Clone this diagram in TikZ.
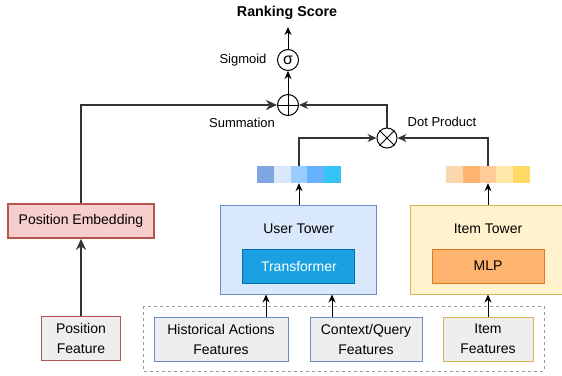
\documentclass[tikz,border=0pt]{standalone}
\usepackage{fontspec}
\setmainfont{Liberation Sans}
\usetikzlibrary{arrows.meta,calc}

\definecolor{userfill}{HTML}{DAE8FC}
\definecolor{userdraw}{HTML}{6C8EBF}
\definecolor{itemfill}{HTML}{FFF2CC}
\definecolor{itemdraw}{HTML}{D6B656}
\definecolor{posfill}{HTML}{F8CECC}
\definecolor{posdraw}{HTML}{B85450}
\definecolor{featfill}{HTML}{EEEEEE}
\definecolor{trfill}{HTML}{1BA1E2}
\definecolor{trdraw}{HTML}{006EAF}
\definecolor{mlpfill}{HTML}{FFB570}
\definecolor{mlpdraw}{HTML}{E07A1F}
\definecolor{linegray}{HTML}{333333}

\tikzset{
  box/.style={draw, line width=1pt, inner sep=0pt, align=center,
    font=\fontsize{14}{20}\selectfont},
  tower/.style={box, minimum width=156pt, minimum height=89pt},
  inner box/.style={box, minimum width=112pt, minimum height=34pt},
  feat/.style={box, fill=featfill, minimum height=44pt},
  cell/.style={minimum width=16.8pt, minimum height=17pt, inner sep=0pt},
  op/.style={circle, draw, line width=1pt, minimum size=21pt, inner sep=0pt},
  lbl/.style={font=\fontsize{13}{15}\selectfont, inner sep=0pt},
  thin arrow/.style={draw=black, line width=1pt, -{Stealth[length=8pt,width=7pt]}},
  op arrow/.style={draw=linegray, line width=1.2pt, -{Stealth[length=9pt,width=8pt]}},
  thick arrow/.style={draw=linegray, line width=2pt, -{Stealth[length=11pt,width=10pt]}}
}

\begin{document}
\begin{tikzpicture}[x=1pt, y=-1pt]
  \useasboundingbox (0,0) rectangle (562,375);
  %%%%% START %%%%%

  % output
  \node[font=\bfseries\fontsize{14.3}{16}\selectfont, inner sep=0pt] (score) at (287, 12.5) {Ranking Score};
  \coordinate (top) at (288, 27);
  \node[op] (sig) at (288, 60) {\fontsize{16}{16}\selectfont σ};
  \node[lbl] (siglbl) at (243, 60) {Sigmoid};
  \node[op] (sum) at (288, 105) {};
  \draw[line width=1pt] (sum.north) -- (sum.south) (sum.west) -- (sum.east);
  \node[lbl] (sumlbl) at (242, 122.5) {Summation};
  \node[op, minimum size=20pt] (dot) at (387, 138) {};
  \draw[line width=1pt] (dot.45) -- (dot.225) (dot.135) -- (dot.315);
  \node[lbl] (dotlbl) at (442, 121.5) {Dot Product};

  \draw[thin arrow] (sig.north) -- (top);
  \draw[thin arrow] (sum.north) -- (sig.south);

  % towers
  \node[tower, fill=userfill, draw=userdraw] (user) at (298.7, 249.5) {};
  \node[box, draw=none] (usertitle) at (298.7, 229) {User Tower};
  \node[inner box, fill=trfill, draw=trdraw, text=white] (trans) at (298.9, 266) {Transformer};

  \node[tower, fill=itemfill, draw=itemdraw] (item) at (488, 249.5) {};
  \node[box, draw=none] (itemtitle) at (488, 229) {Item Tower};
  \node[inner box, fill=mlpfill, draw=mlpdraw] (mlp) at (488, 266) {MLP};

  % embedding vectors
  \foreach \c [count=\i] in {7EA6E0,DAE8FC,99CCFF,66B2FF,36C3F5}{
    \definecolor{cellcol}{HTML}{\c}
    \node[cell, fill=cellcol] (uv\i) at ({257+(\i-0.5)*16.8}, 174.5) {};
  }
  \foreach \c [count=\i] in {FAD7AC,FFB570,FFCC99,FFE8A8,FFD966}{
    \definecolor{cellcol}{HTML}{\c}
    \node[cell, fill=cellcol] (iv\i) at ({446+(\i-0.5)*16.8}, 174.5) {};
  }

  \draw[thin arrow] (user.north -| uv3) -- (uv3.south);
  \draw[thin arrow] (item.north) -- (iv3.south);
  \draw[op arrow] (uv3.north) |- (dot.west);
  \draw[op arrow] (iv3.north) |- (dot.east);
  \draw[op arrow] (dot.north) |- (sum.east);

  % position branch
  \node[box, fill=posfill, draw=posdraw, line width=1.8pt, minimum width=146pt, minimum height=34pt] (posemb) at (81, 221) {Position Embedding};
  \node[feat, draw=posdraw, line width=1.8pt, minimum width=79pt] (posfeat) at (81, 338.5) {Position\\Feature};
  \draw[thick arrow] (posfeat.north) -- (posemb.south);
  \draw[thick arrow] (posemb.north) |- (sum.west);

  % input features
  \draw[draw=gray!80, line width=1pt, dash pattern=on 3pt off 3pt] (143, 306) rectangle (544, 371);
  \node[feat, draw=userdraw, minimum width=134pt] (hist) at (221, 339) {Historical Actions\\Features};
  \node[feat, draw=userdraw, minimum width=112pt] (ctx) at (366, 339) {Context/Query\\Features};
  \node[feat, draw=itemdraw, minimum width=90pt] (itemfeat) at (488, 339) {Item\\Features};

  \draw[thin arrow] ([xshift=45pt]hist.north) -- ([xshift=45pt]hist.north |- user.south);
  \draw[thin arrow] ([xshift=-34pt]ctx.north) -- ([xshift=-34pt]ctx.north |- user.south);
  \draw[thin arrow] (itemfeat.north) -- (item.south);

  %%%%% END %%%%%
\end{tikzpicture}
\end{document}
